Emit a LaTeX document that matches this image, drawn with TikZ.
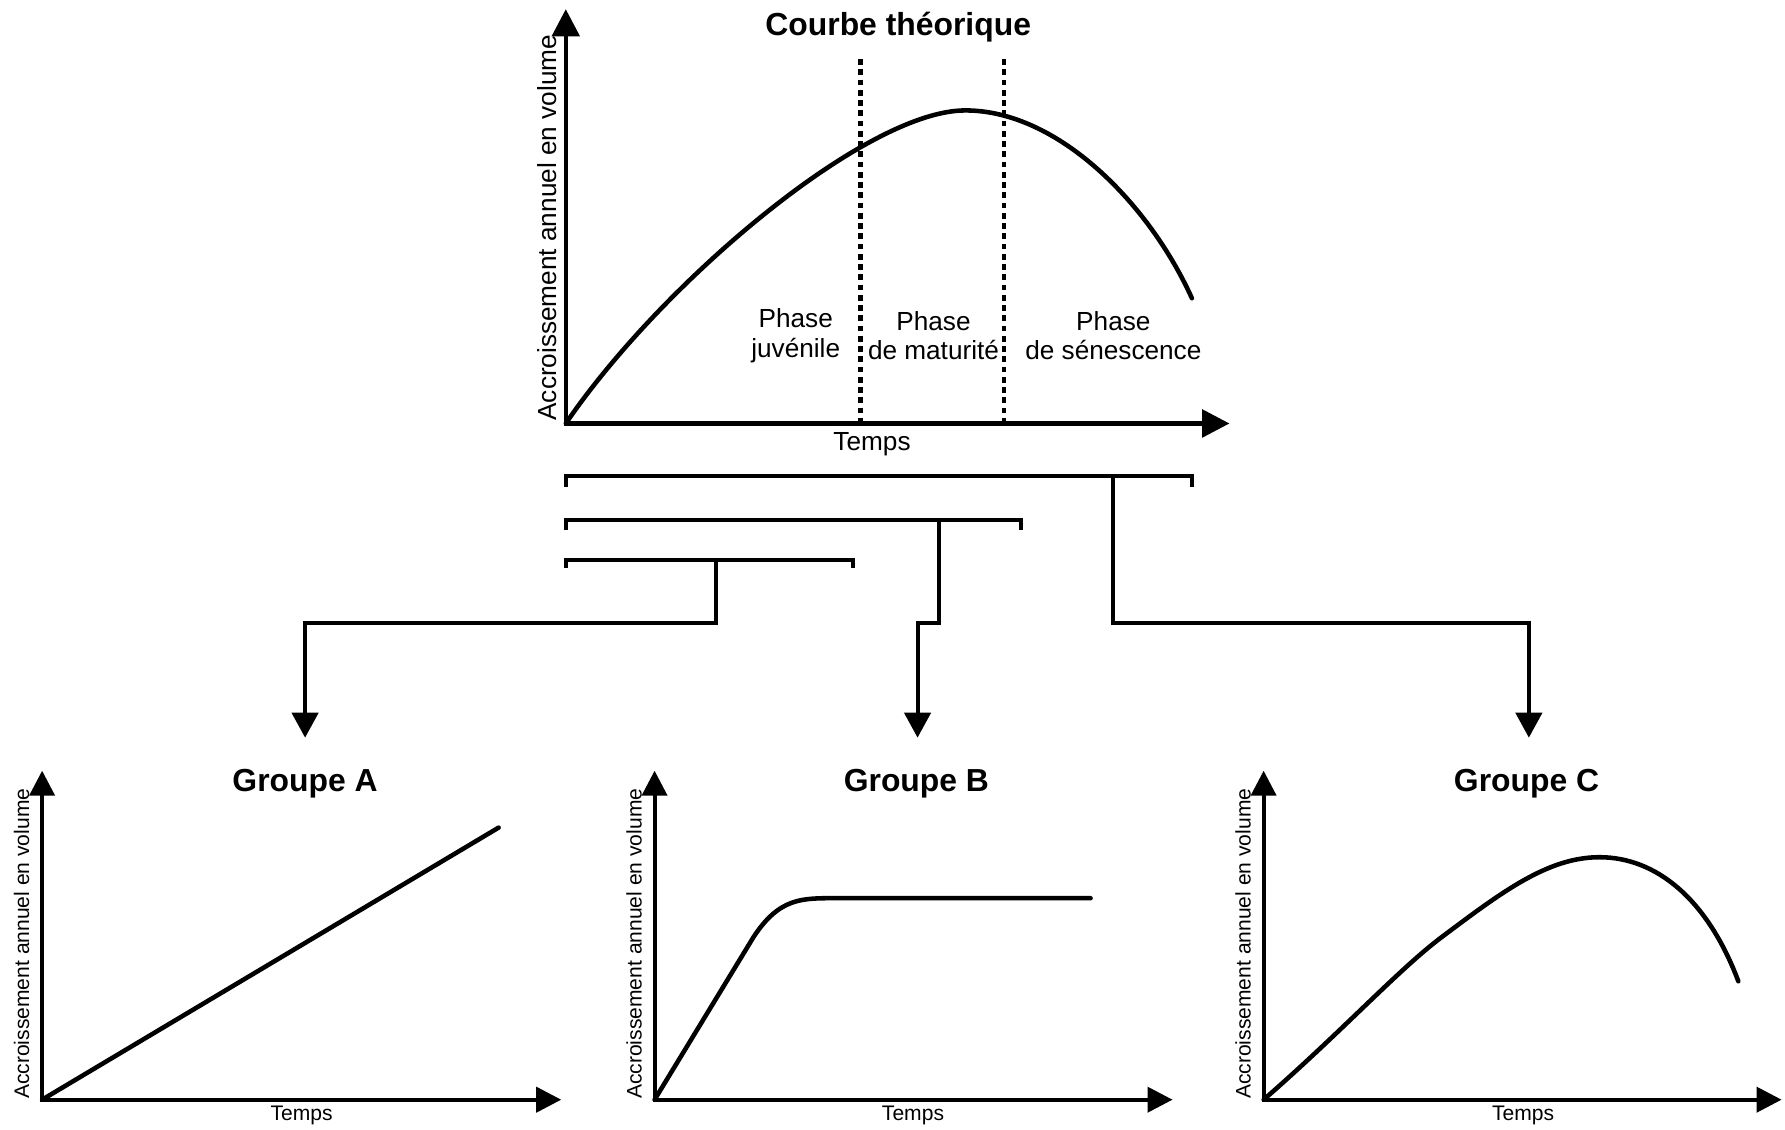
\documentclass[tikz,border=0pt]{standalone}
\usepackage{fontspec}
\setmainfont{Liberation Sans}
\usetikzlibrary{arrows.meta}
\begin{document}
\begin{tikzpicture}[x=1pt,y=-1pt,
  axis/.style={line width=4pt, line cap=rect, -{Triangle[length=24pt,width=24pt]}},
  saxis/.style={line width=3.5pt, line cap=rect, -{Triangle[length=22pt,width=22pt]}},
  curve/.style={line width=4pt, line cap=round, line join=round},
  brk/.style={line width=3.5pt, line join=miter},
  link/.style={line width=3.5pt, line join=miter, -{Triangle[length=22pt,width=23pt]}},
  dots/.style={line width=4pt, dash pattern=on 5pt off 4pt},
  ttl/.style={font=\fontsize{28}{30}\selectfont\bfseries, inner sep=0pt},
  lbl/.style={font=\fontsize{23}{26}\selectfont, align=center, inner sep=0pt},
  slbl/.style={font=\fontsize{18.5}{20}\selectfont, inner sep=0pt},
  ylbl/.style={font=\fontsize{23}{26}\selectfont, rotate=90, inner sep=0pt},
  sylbl/.style={font=\fontsize{18.5}{20}\selectfont, rotate=90, inner sep=0pt},
]
\useasboundingbox (0,0) rectangle (1568,992);

% ---------- top chart ----------
\coordinate (O) at (497,372);
\coordinate (Oy) at (497,8);
\coordinate (Ox) at (1080,372);
\draw[axis] (O) -- (Oy);
\draw[axis] (O) -- (Ox);
\coordinate (d1t) at (756,52);
\coordinate (d1b) at (756,372);
\coordinate (d2t) at (882,52);
\coordinate (d2b) at (882,372);
\draw[dots] (d1t) -- (d1b);
\draw[dots] (d2t) -- (d2b);
\draw[curve] (O) .. controls (580,250) and (760,97) .. (848,97)
                 .. controls (930,97) and (1010,180) .. (1047,262);
\node[ttl] (title) at (789,24) {Courbe théorique};
\node[ylbl] (ylab) at (481,200) {Accroissement annuel en volume};
\node[lbl] (temps) at (766,390) {Temps};
\node[lbl] (p1) at (699,295) {Phase\\juvénile};
\node[lbl] (p2) at (820,295) {Phase\\de maturité};
\node[lbl] (p3) at (978,295) {Phase\\de sénescence};

% ---------- brackets ----------
\coordinate (b1l) at (497,418); \coordinate (b1r) at (1047,418);
\coordinate (b2l) at (497,457); \coordinate (b2r) at (897,457);
\coordinate (b3l) at (497,492); \coordinate (b3r) at (749,492);
\draw[brk] ([yshift=-10pt]b1l) -- (b1l) -- (b1r) -- ([yshift=-10pt]b1r);
\draw[brk] ([yshift=-9pt]b2l) -- (b2l) -- (b2r) -- ([yshift=-9pt]b2r);
\draw[brk] ([yshift=-7pt]b3l) -- (b3l) -- (b3r) -- ([yshift=-7pt]b3r);
\coordinate (s1) at (978,418);
\coordinate (s2) at (825,457);
\coordinate (s3) at (629,492);
\coordinate (kA) at (268,547);
\coordinate (kB) at (806,547);
\coordinate (kC) at (1343,547);
\coordinate (tA) at (268,648);
\coordinate (tB) at (806,648);
\coordinate (tC) at (1343,648);
\draw[link] (s3) |- (kA) -- (tA);
\draw[link] (s2) |- (kB) -- (tB);
\draw[link] (s1) |- (kC) -- (tC);

% ---------- Groupe A ----------
\coordinate (OA) at (37,966);
\coordinate (OAy) at (37,677);
\coordinate (OAx) at (493,966);
\draw[saxis] (OA) -- (OAy);
\draw[saxis] (OA) -- (OAx);
\draw[curve] (OA) -- (438,727);
\node[ttl] (gA) at (268,688) {Groupe A};
\node[sylbl] (yA) at (19,829) {Accroissement annuel en volume};
\node[slbl] (xA) at (265,980) {Temps};

% ---------- Groupe B ----------
\coordinate (OB) at (575,966);
\coordinate (OBy) at (575,677);
\coordinate (OBx) at (1030,966);
\draw[saxis] (OB) -- (OBy);
\draw[saxis] (OB) -- (OBx);
\draw[curve] (OB) -- (662,823) .. controls (685,788) and (705,789) .. (735,789) -- (958,789);
\node[ttl] (gB) at (805,688) {Groupe B};
\node[sylbl] (yB) at (557,829) {Accroissement annuel en volume};
\node[slbl] (xB) at (802,980) {Temps};

% ---------- Groupe C ----------
\coordinate (OC) at (1110,966);
\coordinate (OCy) at (1110,677);
\coordinate (OCx) at (1565,966);
\draw[saxis] (OC) -- (OCy);
\draw[saxis] (OC) -- (OCx);
\draw[curve] (OC) .. controls (1180,905) and (1230,850) .. (1268,822)
                  .. controls (1320,783) and (1360,753) .. (1405,753)
                  .. controls (1455,753) and (1500,790) .. (1527,862);
\node[ttl] (gC) at (1341,688) {Groupe C};
\node[sylbl] (yC) at (1092,829) {Accroissement annuel en volume};
\node[slbl] (xC) at (1338,980) {Temps};
\end{tikzpicture}
\end{document}
